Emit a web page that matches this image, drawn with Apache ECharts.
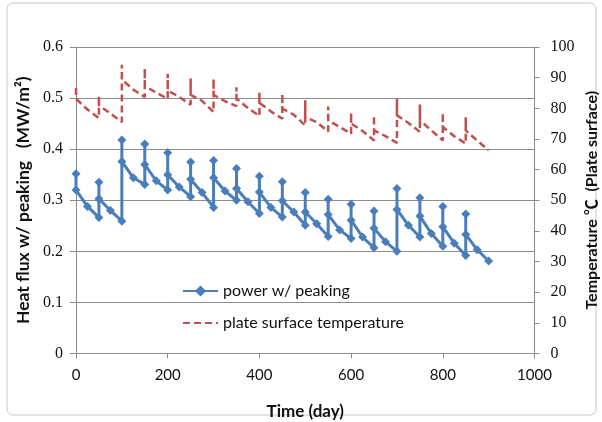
<!DOCTYPE html>
<html>
<head>
<meta charset="utf-8">
<script src="https://cdn.jsdelivr.net/npm/echarts@6/dist/echarts.min.js"></script>
<style>
  html, body { margin: 0; padding: 0; background: #fff; }
  #chart { width: 602px; height: 422px; }
</style>
</head>
<body>
<div id="chart"></div>
<script>
// days repeat at each reload step (low -> peak -> settled)
const days = [
  0, 0, 25,
  50, 50, 50, 75, 100, 100, 100, 125, 150, 150, 150, 175,
  200, 200, 200, 225, 250, 250, 250, 275, 300, 300, 300, 325,
  350, 350, 350, 375, 400, 400, 400, 425, 450, 450, 450, 475,
  500, 500, 500, 525, 550, 550, 550, 575, 600, 600, 600, 625,
  650, 650, 650, 675, 700, 700, 700, 725, 750, 750, 750, 775,
  800, 800, 800, 825, 850, 850, 850, 875, 900
]

// heat flux w/ peaking (MW/m2)
const heatFlux = [
  0.352, 0.320, 0.288,
  0.266, 0.335, 0.303, 0.280, 0.259, 0.418, 0.376, 0.344, 0.331, 0.410, 0.370, 0.338,
  0.320, 0.393, 0.350, 0.326, 0.307, 0.375, 0.341, 0.315, 0.286, 0.378, 0.344, 0.318,
  0.300, 0.362, 0.323, 0.297, 0.274, 0.347, 0.316, 0.286, 0.267, 0.336, 0.299, 0.277,
  0.251, 0.315, 0.277, 0.254, 0.229, 0.302, 0.272, 0.242, 0.225, 0.292, 0.261, 0.228,
  0.207, 0.279, 0.245, 0.219, 0.200, 0.323, 0.282, 0.251, 0.228, 0.305, 0.269, 0.235,
  0.210, 0.288, 0.248, 0.216, 0.192, 0.273, 0.233, 0.203, 0.181
]

// plate surface temperature (C)
const temperature = [
  86.6, 83.1, 79.6,
  76.8, 84.0, 81.0, 78.3, 75.5, 94.2, 89.4, 86.1, 83.7, 93.1, 87.3, 85.1,
  83.1, 91.3, 85.8, 83.7, 81.2, 89.7, 84.4, 82.4, 78.8, 89.7, 84.4, 82.3,
  80.7, 86.9, 83.1, 80.1, 77.5, 85.1, 81.8, 79.0, 76.6, 84.8, 79.9, 77.9,
  74.4, 82.6, 77.1, 75.5, 72.4, 80.6, 76.1, 73.9, 71.7, 78.6, 75.0, 72.6,
  69.5, 77.7, 72.8, 70.9, 68.7, 83.1, 77.7, 75.2, 72.3, 81.2, 76.1, 72.8,
  69.5, 78.6, 73.9, 70.9, 68.5, 77.1, 72.8, 69.5, 66.3
]

const seriesNames = ['power w/ peaking', 'plate surface temperature']

const axisGrey = '#8c8c8c'
const txt = '#111'
const sans = 'Lato, "Noto Sans CJK SC", sans-serif'
const serif = '"Liberation Serif", serif'

const chart = echarts.init(document.getElementById('chart'))

chart.setOption({
  animation: false,
  backgroundColor: '#fff',
  graphic: [{
    type: 'rect',
    shape: { x: 7, y: 3, width: 589, height: 412, r: 6 },
    style: { fill: 'none', stroke: '#c8c8c8', lineWidth: 1 },
    silent: true
  }],
  grid: { left: 76, right: 67.5, top: 47, bottom: 68.5, outerBoundsMode: 'none' },
  legend: {
    orient: 'vertical',
    left: 182,
    top: 283,
    padding: 0,
    itemWidth: 35,
    itemHeight: 14,
    itemGap: 16,
    textStyle: { fontFamily: sans, fontSize: 16, color: txt },
    data: [
      { name: seriesNames[0] },
      { name: seriesNames[1], itemStyle: { opacity: 0 } }
    ]
  },
  xAxis: {
    type: 'value',
    min: 0,
    max: 1000,
    interval: 200,
    name: 'Time (day)',
    nameLocation: 'middle',
    nameGap: 50,
    nameTextStyle: { fontFamily: sans, fontSize: 17, fontWeight: 'bold', color: txt },
    axisLine: { lineStyle: { color: axisGrey } },
    axisTick: { length: 5, lineStyle: { color: axisGrey } },
    axisLabel: { fontFamily: sans, fontSize: 15, color: txt, margin: 14, formatter: v => String(v) },
    splitLine: { show: false }
  },
  yAxis: [{
    type: 'value',
    min: 0,
    max: 0.6,
    interval: 0.1,
    name: 'Heat flux w/ peaking   (MW/m²)',
    nameLocation: 'middle',
    nameRotate: 90,
    nameGap: 44,
    nameTextStyle: { fontFamily: sans, fontSize: 17.5, fontWeight: 'bold', color: txt },
    axisLine: { show: true, lineStyle: { color: axisGrey } },
    axisTick: { show: true, length: 6, lineStyle: { color: axisGrey } },
    axisLabel: { fontFamily: serif, fontSize: 16, color: txt, margin: 13 },
    splitLine: { show: true, lineStyle: { color: axisGrey, width: 1 } }
  }, {
    type: 'value',
    position: 'right',
    min: 0,
    max: 100,
    interval: 10,
    name: 'Temperature ℃  (Plate surface)',
    nameLocation: 'middle',
    nameRotate: 90,
    nameGap: 49,
    nameMoveOverlap: false,
    nameTextStyle: { fontFamily: sans, fontSize: 16, fontWeight: 'bold', color: txt },
    axisLine: { show: true, lineStyle: { color: axisGrey } },
    axisTick: { show: true, length: 5, lineStyle: { color: axisGrey } },
    axisLabel: { fontFamily: serif, fontSize: 16, color: txt, margin: 16 },
    splitLine: { show: false }
  }],
  series: [{
    name: seriesNames[0],
    type: 'line',
    yAxisIndex: 0,
    data: days.map((d, i) => [d, heatFlux[i]]),
    symbol: 'diamond',
    symbolSize: 9,
    showAllSymbol: true,
    color: '#4a7ebb',
    lineStyle: { width: 3, color: '#4a7ebb' },
    itemStyle: { color: '#4a7ebb' },
    z: 3
  }, {
    name: seriesNames[1],
    type: 'line',
    yAxisIndex: 1,
    data: days.map((d, i) => [d, temperature[i]]),
    symbol: 'none',
    color: '#c0504d',
    lineStyle: { width: 2.5, type: [7, 4], color: '#c0504d' },
    z: 2
  }]
})
</script>
</body>
</html>
